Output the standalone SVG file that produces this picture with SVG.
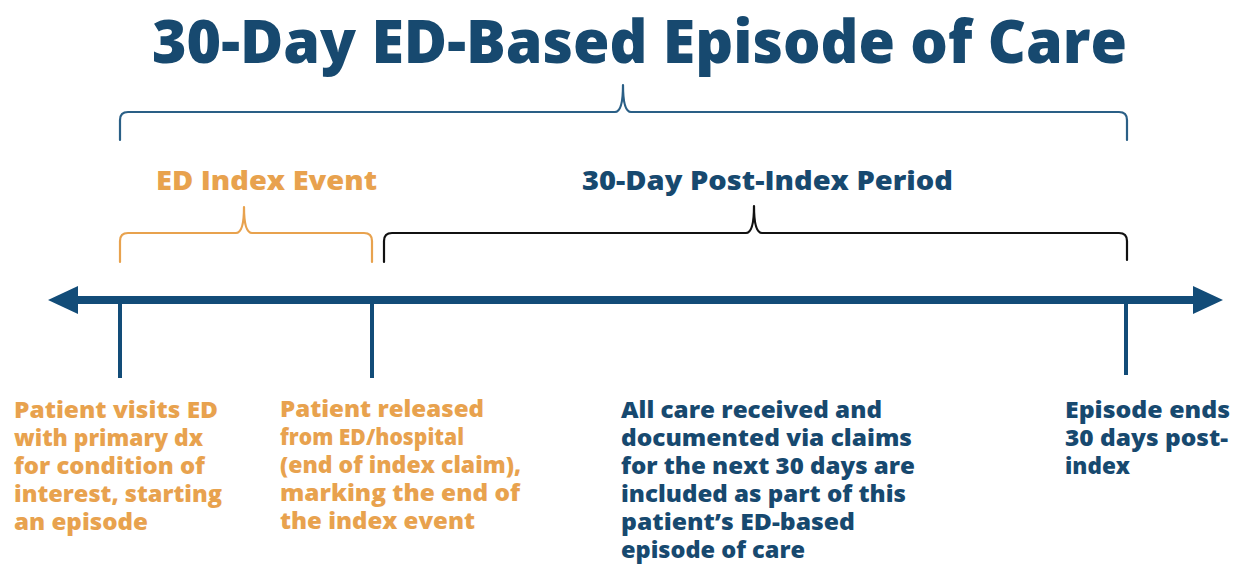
<svg xmlns="http://www.w3.org/2000/svg" width="1236" height="565" viewBox="0 0 1236 565">
  <style>
    text { font-family: "Open Sans", "Liberation Sans", sans-serif; font-weight: 800; }
    .title { font-size: 60px; fill: #17496f; }
    .head { font-size: 27px; }
    .body { font-size: 22.5px; }
    .blue { fill: #17496f; }
    .orange { fill: #e8a24e; }
    .brace { fill: none; stroke-width: 2.2; stroke-linecap: round; stroke-linejoin: round; }
    .tick { stroke: #124c78; stroke-width: 4; }
  </style>
  <defs>
    <marker id="ah" viewBox="0 0 30 28" refX="0" refY="14" markerWidth="30" markerHeight="28" markerUnits="userSpaceOnUse" orient="auto-start-reverse">
      <path d="M0,0 L30,14 L0,28 Z" fill="#124c78"/>
    </marker>
  </defs>
  <rect width="1236" height="565" fill="#ffffff"/>

  <g id="title">
    <text class="title" x="152" y="63" textLength="975" lengthAdjust="spacingAndGlyphs">30-Day ED-Based Episode of Care</text>
  </g>

  <g id="connectors">
    <path id="episode-brace" class="brace" stroke="#2a5f86" d="M120,140 L120,120 Q120,112 128,112 L615,112 Q623,112 623,85 Q623,112 631,112 L1119,112 Q1127,112 1127,120 L1127,140"/>
    <path id="index-brace" class="brace" stroke="#e8a24e" d="M120,262 L120,241 Q120,233 128,233 L236,233 Q244,233 244,207 Q244,233 252,233 L364,233 Q372,233 372,241 L372,262"/>
    <path id="post-brace" class="brace" stroke="#111111" d="M384,262 L384,241 Q384,233 392,233 L746,233 Q754,233 754,206 Q754,233 762,233 L1119,233 Q1127,233 1127,241 L1127,260"/>
    <line id="timeline" x1="78" y1="300" x2="1193" y2="300" stroke="#124c78" stroke-width="8" marker-start="url(#ah)" marker-end="url(#ah)"/>
    <line class="tick" x1="120" y1="300" x2="120" y2="378"/>
    <line class="tick" x1="372" y1="300" x2="372" y2="378"/>
    <line class="tick" x1="1126" y1="300" x2="1126" y2="375"/>
  </g>

  <g id="ed-index-event">
    <text class="head orange" x="156" y="190" textLength="221" lengthAdjust="spacingAndGlyphs">ED Index Event</text>
  </g>

  <g id="post-index-period">
    <text class="head blue" x="582" y="190" textLength="371" lengthAdjust="spacingAndGlyphs">30-Day Post-Index Period</text>
  </g>

  <g id="start-note">
    <text class="body orange" x="14" y="418" textLength="204" lengthAdjust="spacingAndGlyphs">Patient visits ED</text>
    <text class="body orange" x="14" y="446" textLength="189" lengthAdjust="spacingAndGlyphs">with primary dx</text>
    <text class="body orange" x="14" y="474" textLength="191" lengthAdjust="spacingAndGlyphs">for condition of</text>
    <text class="body orange" x="14" y="502" textLength="208" lengthAdjust="spacingAndGlyphs">interest, starting</text>
    <text class="body orange" x="14" y="530" textLength="134" lengthAdjust="spacingAndGlyphs">an episode</text>
  </g>

  <g id="release-note">
    <text class="body orange" x="280" y="417" textLength="204" lengthAdjust="spacingAndGlyphs">Patient released</text>
    <text class="body orange" x="280" y="445" textLength="184" lengthAdjust="spacingAndGlyphs">from ED/hospital</text>
    <text class="body orange" x="280" y="473" textLength="241" lengthAdjust="spacingAndGlyphs">(end of index claim),</text>
    <text class="body orange" x="280" y="501" textLength="240" lengthAdjust="spacingAndGlyphs">marking the end of</text>
    <text class="body orange" x="280" y="529" textLength="195" lengthAdjust="spacingAndGlyphs">the index event</text>
  </g>

  <g id="care-note">
    <text class="body blue" x="621" y="418" textLength="261" lengthAdjust="spacingAndGlyphs">All care received and</text>
    <text class="body blue" x="621" y="446" textLength="291" lengthAdjust="spacingAndGlyphs">documented via claims</text>
    <text class="body blue" x="621" y="474" textLength="294" lengthAdjust="spacingAndGlyphs">for the next 30 days are</text>
    <text class="body blue" x="621" y="502" textLength="285" lengthAdjust="spacingAndGlyphs">included as part of this</text>
    <text class="body blue" x="621" y="530" textLength="234" lengthAdjust="spacingAndGlyphs">patient’s ED-based</text>
    <text class="body blue" x="621" y="558" textLength="184" lengthAdjust="spacingAndGlyphs">episode of care</text>
  </g>

  <g id="end-note">
    <text class="body blue" x="1065" y="418" textLength="165" lengthAdjust="spacingAndGlyphs">Episode ends</text>
    <text class="body blue" x="1065" y="446" textLength="163" lengthAdjust="spacingAndGlyphs">30 days post-</text>
    <text class="body blue" x="1065" y="474" textLength="65" lengthAdjust="spacingAndGlyphs">index</text>
  </g>
</svg>
